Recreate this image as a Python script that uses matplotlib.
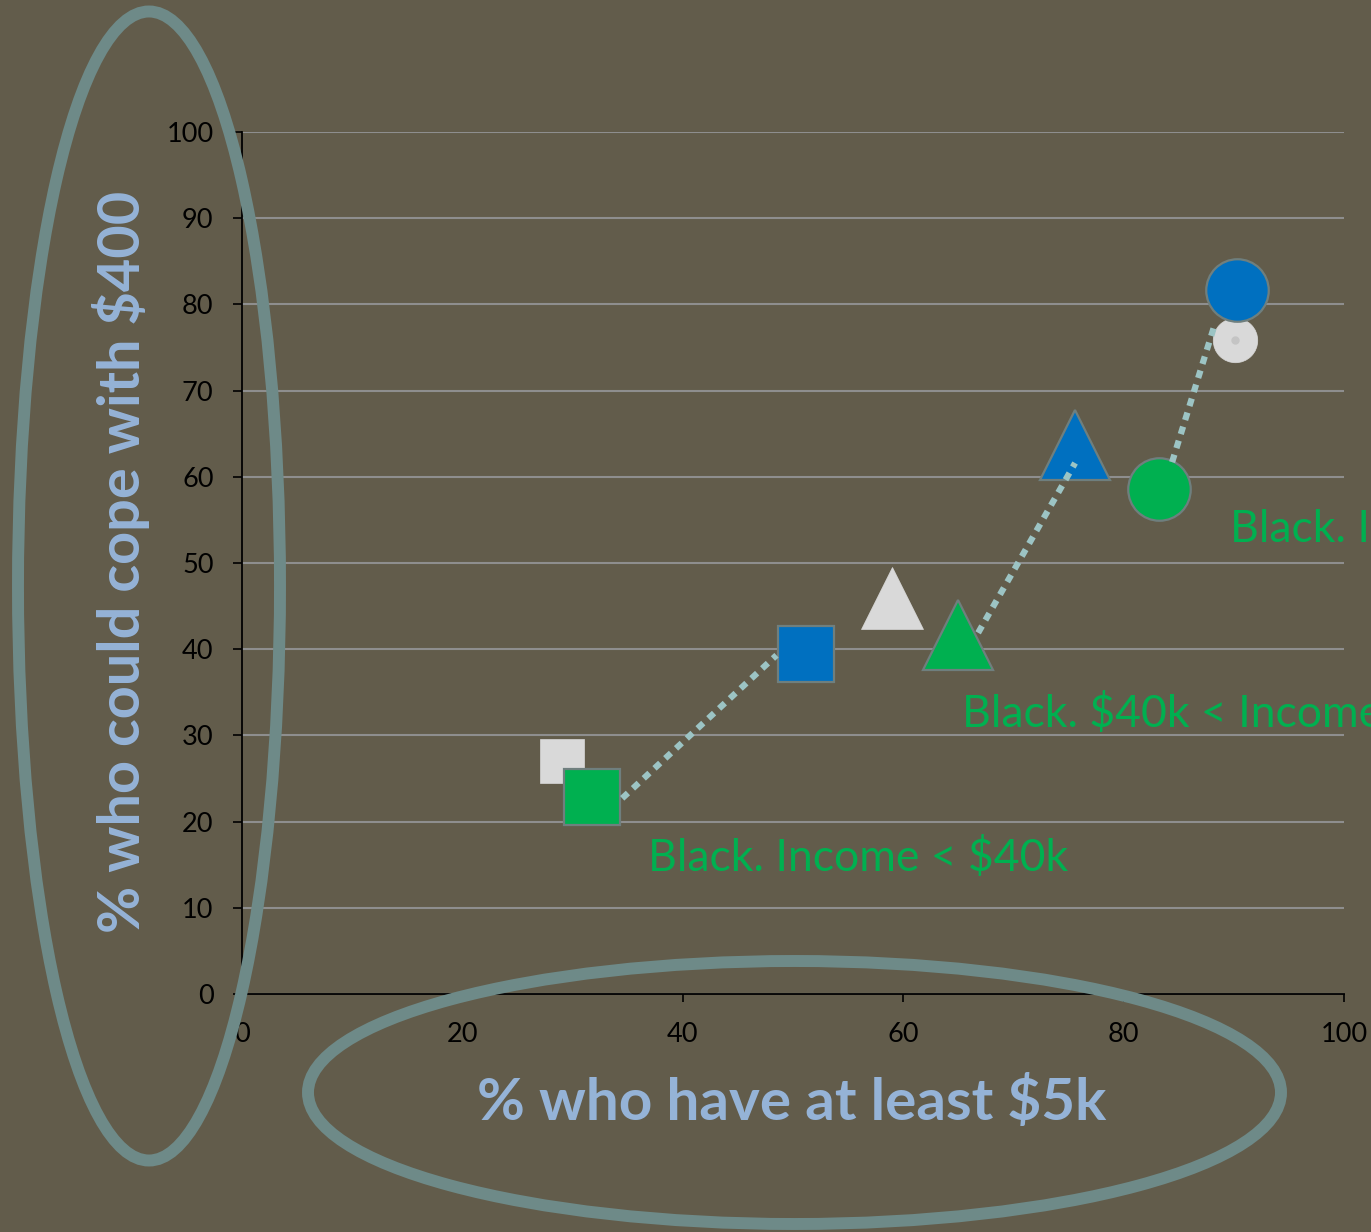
import matplotlib
matplotlib.use("Agg")
import matplotlib.pyplot as plt
from matplotlib.patches import Ellipse

# ---- data ----
white_sq = (29.0, 27.0)
green_sq = (31.8, 22.9)
blue_sq = (51.2, 39.4)
white_tri = (59.0, 45.9)
green_tri = (65.0, 41.6)
blue_tri = (75.6, 63.7)
green_circ = (83.2, 58.6)
white_circ = (90.1, 75.9)
blue_circ = (90.3, 81.7)

# dotted connectors (start -> end)
conn_x = [[34.5, 48.5], [66.8, 75.6], [84.4, 88.3]]
conn_y = [[22.7, 39.3], [41.9, 61.6], [61.7, 77.8]]

labels = [r"Black. Income < \$40k", r"Black. \$40k < Income < \$75k", r"Black. Income > \$75k"]
label_x = [36.8, 65.3, 89.7]
label_y = [15.8, 32.5, 53.9]

xticks = [0, 20, 40, 60, 80, 100]
yticks = [0, 10, 20, 30, 40, 50, 60, 70, 80, 90, 100]

xlabel = r"% who have at least \$5k"
ylabel = r"% who could cope with \$400"

# ---- style ----
BG = "#625C4B"
GREEN = "#00B050"
BLUE = "#0070C0"
WHITE = "#D9D9D9"
EDGE = "#6F7F7E"
DOT = "#9CC4C4"
ELL = "#6E8A88"
LBL = "#95B3D7"

W, H = 1371, 1232
fig = plt.figure(figsize=(W / 100, H / 100), dpi=100, facecolor=BG)
ax = fig.add_axes([242 / W, 1 - 994 / H, (1344 - 242) / W, (994 - 132) / H])
ax.set_facecolor(BG)
ax.set_xlim(0, 100)
ax.set_ylim(0, 100)

ax.set_xticks(xticks)
ax.set_yticks(yticks)
ax.set_xticklabels([str(t) for t in xticks], fontfamily="Lato", fontsize=19.5, color="black")
ax.set_yticklabels([str(t) for t in yticks], fontfamily="Lato", fontsize=19.5, color="black")
ax.tick_params(axis="x", direction="out", length=6, width=1.2, pad=14, colors="black")
ax.tick_params(axis="y", direction="out", length=6.5, width=1.2, pad=14, colors="black")
for s in ["top", "right"]:
    ax.spines[s].set_visible(False)
for s in ["left", "bottom"]:
    ax.spines[s].set_color("black")
    ax.spines[s].set_linewidth(1.3)
ax.yaxis.grid(True, color="#8E8E8E", linewidth=1.5)
ax.set_axisbelow(True)

def mk(pt, marker, size, color, edge, z):
    ax.plot([pt[0]], [pt[1]], marker=marker, markersize=size, markerfacecolor=color,
            markeredgecolor=edge, markeredgewidth=1.6 if edge != color else 0.5,
            linestyle="none", zorder=z, clip_on=False)

mk(white_sq, "s", 32, WHITE, WHITE, 3)
mk(green_sq, "s", 41, GREEN, EDGE, 4)
mk(blue_sq, "s", 41, BLUE, EDGE, 4)
mk(white_tri, "^", 44, WHITE, WHITE, 3)
mk(green_tri, "^", 51, GREEN, EDGE, 4)
mk(blue_tri, "^", 51, BLUE, EDGE, 4)
mk(green_circ, "o", 45, GREEN, EDGE, 4)
mk(white_circ, "o", 32, WHITE, WHITE, 3)
mk(blue_circ, "o", 45, BLUE, EDGE, 4)
ax.plot([white_circ[0]], [white_circ[1]], marker="o", markersize=5, color="#C4C4C4",
        linestyle="none", zorder=3.5)

for cx, cy in zip(conn_x, conn_y):
    ax.plot(cx, cy, color=DOT, linewidth=4.5, linestyle=(0, (1.25, 1.1)),
            dash_capstyle="butt", zorder=5)

for t, x, y in zip(labels, label_x, label_y):
    ax.text(x, y, t, color=GREEN, fontsize=32, fontfamily="Lato", ha="left", va="center",
            clip_on=False, zorder=6)

fig.text(121 / W, 1 - 562 / H, ylabel, rotation=90, ha="center", va="center",
         color=LBL, fontsize=41.5, fontweight="bold", fontfamily="Lato")
fig.text(792 / W, 1 - 1103 / H, xlabel, ha="center", va="center",
         color=LBL, fontsize=42, fontweight="bold", fontfamily="Lato")

e1 = Ellipse((149 / W, 1 - 586 / H), 262 / W, 1149 / H, transform=fig.transFigure,
             fill=False, edgecolor=ELL, linewidth=8.6, zorder=10)
e2 = Ellipse((794.5 / W, 1 - 1092.5 / H), 973 / W, 263 / H, transform=fig.transFigure,
             fill=False, edgecolor=ELL, linewidth=8.6, zorder=10)
fig.add_artist(e1)
fig.add_artist(e2)

fig.savefig("out.png", dpi=100, facecolor=BG)
